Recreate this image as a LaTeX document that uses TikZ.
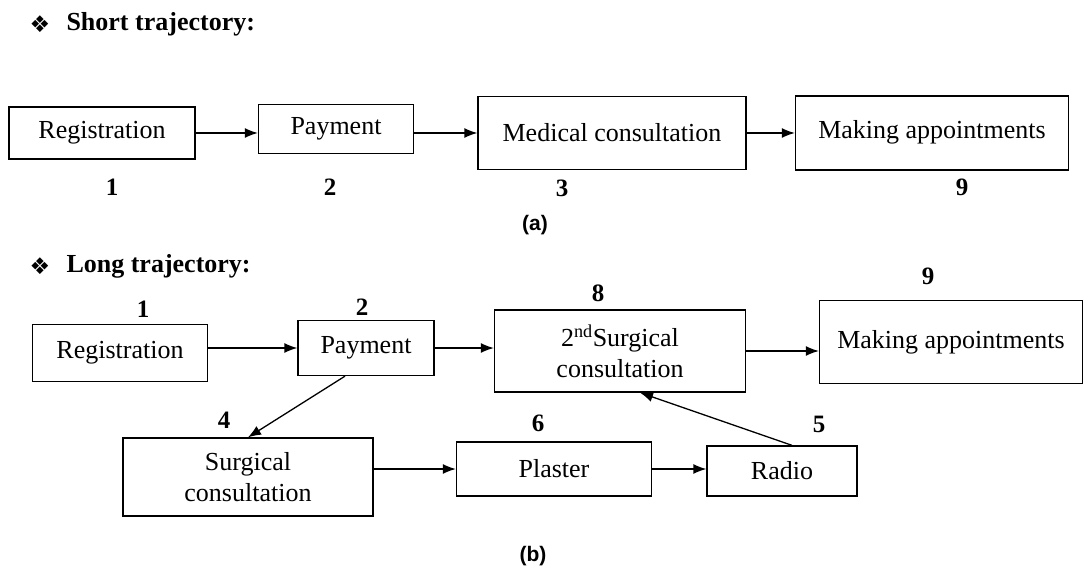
\documentclass[tikz,border=0pt]{standalone}
\usepackage{fontspec}
\setmainfont{Liberation Serif}
\newfontfamily\capfont{Liberation Sans}
\newfontfamily\symfont{DejaVu Sans}
\usetikzlibrary{positioning,arrows.meta}
\tikzset{
  box/.style={ % boxes of the trajectories
    draw,
    line width=1.3pt,
    align=center,
    inner sep=0pt,
    font=\fontsize{26}{31}\selectfont},
  num/.style={font=\fontsize{25}{30}\selectfont\bfseries},
  title/.style={anchor=west, font=\fontsize{26}{30}\selectfont\bfseries},
  bullet/.style={font=\fontsize{23}{26}\selectfont\symfont},
  caption/.style={font=\fontsize{21}{25}\selectfont\capfont\bfseries},
  every edge/.style={
    draw,
    line width=1.3pt,
    -{Latex[length=13pt,width=10pt]}}}

\begin{document}
\begin{tikzpicture}[x=1pt,y=-1pt]
    \useasboundingbox (0,0) rectangle (1087,569);

    % short trajectory
    \node[bullet] (b1) at (40,24) {❖};
    \node[title] (t1) at (63,24) {Short trajectory:};

    \node[box, minimum width=186, minimum height=52] (reg1) at (102,133) {Registration};
    \node[box, minimum width=155, minimum height=49] (pay1) at (336,129) {Payment};
    \node[box, minimum width=268, minimum height=73] (med1) at (612,133) {Medical consultation};
    \node[box, minimum width=273, minimum height=74] (app1) at (932,133) {\raisebox{7pt}{Making appointments}};

    \node[num] (n11) at (112,187) {1};
    \node[num] (n12) at (330,187) {2};
    \node[num] (n13) at (562,188) {3};
    \node[num] (n19) at (962,187) {9};
    \node[caption] (capa) at (535,225) {(a)};

    \path (reg1.east) edge (pay1.west |- reg1.east);
    \path (pay1.east |- med1.west) edge (med1.west);
    \path (med1.east) edge (app1.west |- med1.east);

    % long trajectory
    \node[bullet] (b2) at (40,266) {❖};
    \node[title] (t2) at (63,266) {Long trajectory:};

    \node[box, minimum width=175, minimum height=57] (reg2) at (120,353) {Registration};
    \node[box, minimum width=136, minimum height=55] (pay2) at (366,348) {Payment};
    \node[box, minimum width=251, minimum height=82] (sur2) at (620,351) {2\textsuperscript{nd}Surgical\\consultation};
    \node[box, minimum width=263, minimum height=83] (app2) at (951,342) {Making appointments};
    \node[box, minimum width=250, minimum height=78] (sur1) at (248,477) {Surgical\\consultation};
    \node[box, minimum width=195, minimum height=54] (pla) at (554,469) {Plaster};
    \node[box, minimum width=150, minimum height=50] (rad) at (782,471) {Radio};

    \node[num] (n21) at (143,309) {1};
    \node[num] (n22) at (362,307) {2};
    \node[num] (n28) at (598,293) {8};
    \node[num] (n29) at (928,276) {9};
    \node[num] (n24) at (224,420) {4};
    \node[num] (n26) at (538,423) {6};
    \node[num] (n25) at (819,424) {5};
    \node[caption] (capb) at (533,556) {(b)};

    \path (reg2.east |- pay2.west) edge (pay2.west);
    \path (pay2.east) edge (sur2.west |- pay2.east);
    \path (sur2.east) edge (app2.west |- sur2.east);
    \path ([xshift=-21pt]pay2.south) edge (sur1.north);
    \path (sur1.east |- pla.west) edge (pla.west);
    \path (pla.east) edge (rad.west |- pla.east);
    \path ([xshift=10pt]rad.north) edge ([xshift=20pt]sur2.south);
\end{tikzpicture}
\end{document}
